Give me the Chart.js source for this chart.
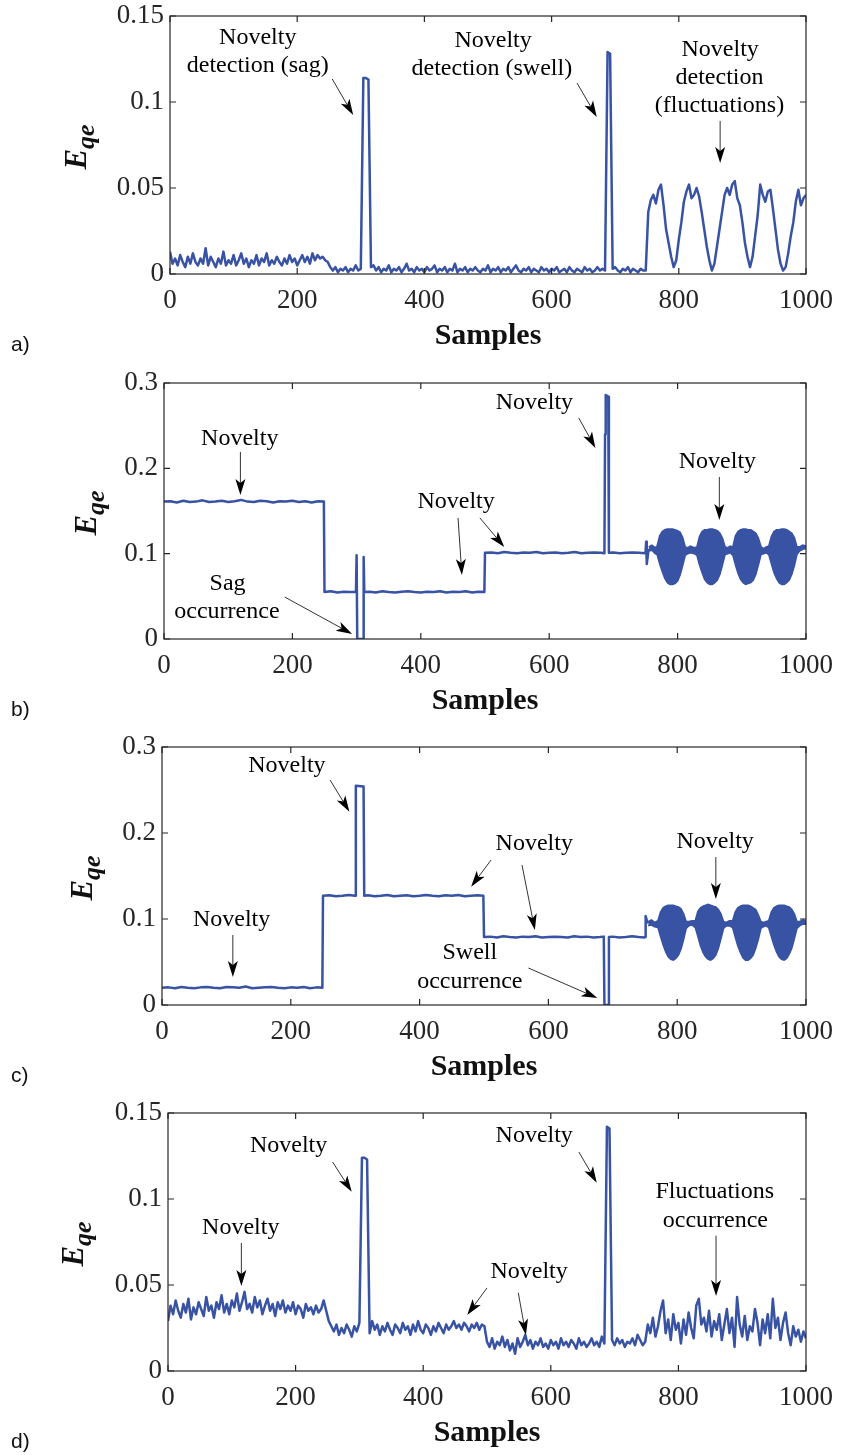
<!DOCTYPE html>
<html>
<head>
<meta charset="utf-8">
<script src="https://cdn.jsdelivr.net/npm/chart.js@4.4.1/dist/chart.umd.min.js"></script>
<style>
  html, body { margin: 0; padding: 0; background: #fff; }
  #page { position: relative; width: 844px; height: 1455px; overflow: hidden; background: #fff; }
  canvas { position: absolute; left: 0; }
</style>
</head>
<body>
<div id="page">
  <canvas id="chartA"></canvas>
  <canvas id="chartB"></canvas>
  <canvas id="chartC"></canvas>
  <canvas id="chartD"></canvas>
</div>
<script>
// Quantization error E_qe vs samples, four cases a) - d)

const BLUE = 'rgb(56, 82, 164)';
const AXIS = '#262626';
const SERIF = '"Liberation Serif", "Times New Roman", serif';

// tick labels
const xTickValues = [0, 200, 400, 600, 800, 1000];
const yTicksSmall = [0, 0.05, 0.1, 0.15];
const yTicksLarge = [0, 0.1, 0.2, 0.3];

// a) and d) are read on a regular grid, one value every GRID samples (0..1000)
const GRID = 4;

const aY = [
  .013,.006,.009,.005,.011,.007,.004,.010,.006,.012,
  .007,.005,.009,.006,.015,.005,.010,.007,.004,.009,
  .006,.013,.005,.008,.006,.011,.005,.008,.012,.006,
  .009,.004,.008,.006,.011,.005,.009,.007,.012,.005,
  .008,.006,.010,.007,.005,.009,.006,.011,.007,.009,
  .005,.008,.011,.007,.010,.006,.012,.008,.011,.009,
  .010,.008,.007,.004,.002,.004,.001,.003,.002,.004,
  .001,.003,.002,.005,.002,.003,.114,.114,.113,.004,
  .005,.002,.004,.001,.003,.002,.005,.001,.003,.002,
  .004,.001,.003,.006,.002,.003,.001,.004,.002,.003,
  .001,.004,.002,.003,.005,.001,.003,.002,.004,.001,
  .003,.002,.006,.001,.003,.002,.004,.001,.003,.002,
  .004,.002,.001,.003,.002,.005,.001,.003,.002,.004,
  .001,.003,.002,.004,.001,.003,.005,.002,.001,.003,
  .002,.004,.001,.003,.002,.001,.004,.002,.003,.001,
  .003,.002,.004,.001,.002,.003,.001,.004,.002,.001,
  .003,.002,.001,.004,.002,.003,.001,.002,.004,.002,
  .003,.002,.129,.128,.003,.004,.002,.001,.003,.002,
  .004,.001,.003,.002,.001,.003,.002,.002,.036,.043,
  .046,.041,.049,.052,.040,.026,.018,.010,.004,.008,
  .020,.030,.042,.048,.052,.044,.046,.050,.045,.036,
  .026,.016,.008,.002,.006,.016,.026,.036,.046,.050,
  .046,.052,.054,.044,.040,.030,.018,.010,.004,.010,
  .022,.034,.052,.046,.042,.048,.049,.038,.026,.014,
  .006,.002,.004,.012,.022,.030,.042,.049,.040,.044,
  .046
];

const dY = [
  .029,.038,.033,.041,.035,.031,.039,.034,.042,.030,
  .037,.033,.040,.036,.032,.043,.035,.038,.031,.040,
  .036,.044,.034,.039,.033,.041,.037,.045,.035,.040,
  .046,.036,.039,.034,.043,.037,.041,.033,.038,.042,
  .035,.039,.032,.040,.036,.041,.034,.038,.035,.040,
  .033,.038,.036,.031,.039,.035,.037,.033,.038,.034,
  .036,.041,.035,.029,.026,.023,.027,.021,.025,.022,
  .027,.024,.020,.026,.023,.028,.124,.124,.123,.022,
  .029,.024,.027,.021,.026,.023,.028,.024,.021,.027,
  .025,.022,.028,.024,.026,.021,.027,.023,.029,.024,
  .022,.027,.025,.021,.026,.023,.028,.025,.022,.027,
  .024,.026,.029,.025,.027,.024,.028,.026,.023,.027,
  .025,.028,.024,.027,.026,.017,.014,.019,.013,.017,
  .015,.020,.014,.018,.012,.016,.010,.019,.014,.017,
  .021,.015,.018,.013,.017,.015,.019,.014,.016,.013,
  .018,.015,.017,.013,.019,.015,.017,.014,.018,.016,
  .013,.019,.015,.017,.014,.016,.019,.015,.017,.014,
  .020,.016,.142,.141,.018,.015,.019,.016,.018,.014,
  .017,.016,.019,.015,.021,.018,.015,.017,.027,.022,
  .031,.020,.026,.035,.041,.022,.030,.018,.033,.024,
  .028,.016,.030,.021,.034,.025,.019,.038,.042,.027,
  .031,.023,.035,.020,.029,.024,.033,.018,.027,.036,
  .022,.031,.014,.043,.027,.020,.032,.018,.026,.023,
  .036,.028,.015,.030,.022,.033,.019,.042,.025,.031,
  .018,.028,.034,.022,.015,.026,.020,.024,.017,.023,
  .019
];

// b) step levels
const bX = [
  0,10,20,30,40,50,60,70,80,90,100,110,120,130,140,150,160,170,180,190,200,210,220,230,240,249,
  250,260,270,280,290,299,300,301,310,311,312,
  320,330,340,350,360,370,380,390,400,410,420,430,440,450,460,470,480,490,499,
  500,510,520,530,540,550,560,570,580,590,600,610,620,630,640,650,660,670,680,686,687,688,692,693,
  700,710,720,730,740,749,750,751,752,755
];
const bY = [
  .161,.1615,.160,.162,.1605,.161,.1625,.1605,.161,.162,.1605,.1615,.163,.161,.1605,.162,.1615,.160,.1615,.161,.162,.1605,.1615,.160,.1615,.161,
  .055,.056,.0545,.0555,.055,.0555,.098,.000,.000,.096,.055,
  .0555,.0545,.056,.055,.0545,.0555,.056,.055,.0545,.0555,.055,.056,.0545,.0555,.055,.056,.0545,.0555,.055,
  .101,.1015,.1005,.102,.101,.1005,.1015,.101,.102,.1005,.101,.1015,.1005,.101,.102,.1005,.101,.1015,.101,.1005,.240,.286,.284,.101,
  .1015,.1005,.101,.1015,.101,.1005,.101,.114,.088,.106
];
// b) oscillation envelope (upper / lower edge of the dense band)
const bEnvX = [
  755,760,765,
  768,772,776,780,784,788,792,796,800,804,808,812,
  816,820,826,
  830,834,838,842,846,850,854,858,862,866,870,874,
  878,882,
  886,890,894,898,902,906,910,914,918,922,926,930,
  934,938,
  942,946,950,954,958,962,966,970,974,978,982,986,
  990,995,1000
];
const bUpper = [
  .108,.110,.107,
  .109,.121,.126,.128,.129,.129,.129,.128,.127,.125,.119,.108,
  .107,.109,.107,
  .108,.120,.126,.128,.128,.129,.129,.128,.127,.124,.118,.108,
  .107,.109,
  .108,.121,.126,.128,.129,.129,.128,.128,.126,.124,.118,.108,
  .106,.108,
  .109,.120,.126,.128,.128,.129,.129,.128,.126,.124,.119,.108,
  .108,.110,.109
];
const bLower = [
  .103,.104,.100,
  .099,.088,.079,.071,.066,.064,.064,.065,.068,.075,.086,.098,
  .100,.101,.100,
  .098,.087,.078,.070,.066,.064,.064,.066,.069,.076,.087,.099,
  .100,.101,
  .098,.087,.077,.070,.066,.064,.065,.066,.069,.076,.087,.099,
  .100,.101,
  .099,.088,.078,.071,.066,.064,.064,.066,.069,.076,.086,.099,
  .103,.105,.106
];

// c) step levels
const cX = [
  0,10,20,30,40,50,60,70,80,90,100,110,120,130,140,150,160,170,180,190,200,210,220,230,240,249,
  250,260,270,280,290,300,301,313,314,
  320,330,340,350,360,370,380,390,400,410,420,430,440,450,460,470,480,490,499,
  500,510,520,530,540,550,560,570,580,590,600,610,620,630,640,650,660,670,680,686,687,693,694,
  700,710,720,730,740,749,750,751,753,755
];
const cY = [
  .020,.0205,.0195,.021,.020,.0195,.0205,.021,.020,.0195,.021,.0205,.020,.0215,.0195,.020,.0205,.021,.020,.0195,.0205,.020,.021,.0195,.0205,.020,
  .127,.1275,.1265,.127,.128,.127,.255,.254,.127,
  .1275,.1265,.127,.128,.1265,.127,.1275,.1265,.127,.128,.127,.1265,.1275,.127,.128,.1265,.127,.1275,.127,
  .079,.0795,.0785,.080,.079,.0785,.0795,.079,.080,.0785,.079,.0795,.079,.0785,.080,.079,.0795,.0785,.079,.0795,.000,.000,.079,
  .0795,.0785,.079,.080,.079,.0785,.079,.1035,.098,.095
];
const cEnvX = [
  755,760,765,
  770,774,778,782,786,790,794,798,802,806,810,814,
  818,823,
  828,832,836,840,844,848,852,856,860,864,868,872,
  876,881,
  886,890,894,898,902,906,910,914,918,922,926,930,
  934,938,
  942,946,950,954,958,962,966,970,974,978,982,986,
  990,995,1000
];
const cUpper = [
  .097,.099,.096,
  .098,.108,.113,.115,.116,.116,.116,.115,.114,.112,.106,.097,
  .097,.098,
  .098,.109,.113,.115,.116,.117,.116,.115,.114,.111,.106,.097,
  .096,.098,
  .098,.108,.113,.115,.116,.116,.116,.115,.113,.111,.105,.097,
  .096,.097,
  .098,.108,.113,.115,.116,.116,.116,.115,.114,.111,.106,.097,
  .097,.099,.098
];
const cLower = [
  .092,.093,.091,
  .090,.080,.070,.062,.056,.053,.052,.054,.058,.065,.076,.089,
  .092,.093,
  .090,.080,.069,.061,.056,.053,.052,.054,.058,.066,.077,.089,
  .092,.092,
  .090,.079,.069,.061,.055,.052,.052,.054,.058,.066,.076,.089,
  .091,.092,
  .090,.080,.070,.062,.056,.053,.052,.054,.059,.066,.077,.089,
  .092,.094,.094
];

// annotations, in data units: [text, sample, value]  /  arrows [x1, y1, x2, y2]
const textsA = [['Novelty',138,.136],['detection (sag)',138,.1198],['Novelty',508,.1343],['detection (swell)',506,.118],
                ['Novelty',865,.129],['detection',864,.1128],['(fluctuations)',864,.0965]];
const arrowsA = [[255,.1134,288,.0924],[640,.111,671,.0913],[865,.089,865,.0645]];

const textsB = [['Novelty',118,.2321],['Sag',99,.0621],['occurrence',98,.0293],['Novelty',455,.1583],
                ['Novelty',577,.2743],['Novelty',862,.2052]];
const arrowsB = [[119,.2192,119,.1688],[188,.0492,293,.0059],[458,.1419,464,.075],[492,.1419,530,.1079],
                 [646,.2591,672,.2239],[865,.1899,865,.1395]];

const textsC = [['Novelty',194,.2756],['Novelty',108,.0965],['Novelty',578,.1849],['Swell',478,.0581],
                ['occurrence',478,.0244],['Novelty',859,.1872]];
const arrowsC = [[261,.2616,291,.2248],[110,.0814,110,.0326],[511,.1686,480,.1376],[559,.1628,579,.0872],
                 [569,.043,676,.0081],[860,.1721,860,.1233]];

const textsD = [['Novelty',189,.1297],['Novelty',114,.082],['Novelty',574,.1355],['Novelty',566,.0564],
                ['Fluctuations',857,.1029],['occurrence',858,.086]];
const arrowsD = [[258,.1215,288,.1042],[115,.0744,115,.0494],[644,.1273,672,.1095],[500,.0483,469,.0326],
                 [549,.0455,561,.0209],[859,.0787,859,.0436]];

// ---------- helpers ----------
function gridPoints(values) {
  return values.map((v, i) => ({ x: i * GRID, y: v }));
}
function pairPoints(xs, ys) {
  return xs.map((x, i) => ({ x: x, y: ys[i] }));
}
function lineSet(points) {
  return { data: points, borderColor: BLUE, borderWidth: 2.5, pointRadius: 0, tension: 0,
           fill: false, borderJoinStyle: 'round' };
}
function bandSets(xs, upper, lower) {
  return [
    { data: pairPoints(xs, upper), borderColor: BLUE, backgroundColor: BLUE, borderWidth: 1.5,
      pointRadius: 0, tension: 0, fill: '+1' },
    { data: pairPoints(xs, lower), borderColor: BLUE, borderWidth: 1.5, pointRadius: 0, tension: 0, fill: false }
  ];
}

function drawArrow(ctx, x1, y1, x2, y2) {
  const ang = Math.atan2(y2 - y1, x2 - x1);
  const L = 16, W = 5, back = 4;
  ctx.save();
  ctx.strokeStyle = '#333';
  ctx.lineWidth = 1;
  ctx.beginPath();
  ctx.moveTo(x1, y1);
  ctx.lineTo(x2 - Math.cos(ang) * (L - back), y2 - Math.sin(ang) * (L - back));
  ctx.stroke();
  ctx.translate(x2, y2);
  ctx.rotate(ang);
  ctx.beginPath();
  ctx.moveTo(0, 0);
  ctx.lineTo(-L, -W);
  ctx.lineTo(-L + back, 0);
  ctx.lineTo(-L, W);
  ctx.closePath();
  ctx.fillStyle = '#000';
  ctx.fill();
  ctx.restore();
}

// box, inward ticks, titles and annotations
const decoPlugin = {
  id: 'deco',
  afterDraw(chart, args, opts) {
    const ctx = chart.ctx;
    const ca = chart.chartArea;
    const xs = chart.scales.x, ys = chart.scales.y;
    ctx.save();
    ctx.strokeStyle = AXIS;
    ctx.lineWidth = 1.2;
    ctx.strokeRect(ca.left, ca.top, ca.right - ca.left, ca.bottom - ca.top);
    ctx.beginPath();
    xTickValues.forEach(v => {
      const px = xs.getPixelForValue(v);
      ctx.moveTo(px, ca.bottom); ctx.lineTo(px, ca.bottom - 6);
      ctx.moveTo(px, ca.top); ctx.lineTo(px, ca.top + 6);
    });
    opts.yTicks.forEach(v => {
      const py = ys.getPixelForValue(v);
      ctx.moveTo(ca.left, py); ctx.lineTo(ca.left + 6, py);
      ctx.moveTo(ca.right, py); ctx.lineTo(ca.right - 6, py);
    });
    ctx.stroke();

    // x title
    ctx.fillStyle = '#111';
    ctx.font = 'bold 30px ' + SERIF;
    ctx.textAlign = 'center';
    ctx.textBaseline = 'middle';
    ctx.fillText('Samples', (ca.left + ca.right) / 2, ca.bottom + 62);

    // y title E_qe
    ctx.save();
    ctx.translate(ca.left - opts.titleGap, (ca.top + ca.bottom) / 2 + 2);
    ctx.rotate(-Math.PI / 2);
    const big = 'italic bold 31px ' + SERIF, small = 'italic bold 26px ' + SERIF;
    ctx.font = big; const wE = ctx.measureText('E').width;
    ctx.font = small; const wS = ctx.measureText('qe').width;
    const x0 = -(wE + wS) / 2;
    ctx.textAlign = 'left';
    ctx.textBaseline = 'alphabetic';
    ctx.font = big; ctx.fillText('E', x0, 0);
    ctx.font = small; ctx.fillText('qe', x0 + wE, 8);
    ctx.restore();

    // panel letter
    ctx.font = '21px "Liberation Sans", Arial, sans-serif';
    ctx.textAlign = 'left';
    ctx.textBaseline = 'middle';
    ctx.fillStyle = '#111';
    ctx.fillText(opts.letter, 11, ca.bottom + 71);

    // annotations
    ctx.font = '24px ' + SERIF;
    ctx.textAlign = 'center';
    ctx.fillStyle = '#000';
    opts.texts.forEach(t => {
      ctx.fillText(t[0], xs.getPixelForValue(t[1]), ys.getPixelForValue(t[2]) - 2);
    });
    opts.arrows.forEach(a => {
      drawArrow(ctx, xs.getPixelForValue(a[0]), ys.getPixelForValue(a[1]),
                     xs.getPixelForValue(a[2]), ys.getPixelForValue(a[3]));
    });
    ctx.restore();
  }
};

// ---------- panels ----------
const Y_W = 70, X_H = 40, TOP_M = 40, BOT_M = 95;

const panels = [
  { id: 'chartA', letter: 'a)', box: { l: 170, r: 808, t: 16, b: 274 }, yMax: 0.15, yTicks: yTicksSmall,
    titleGap: 84, texts: textsA, arrows: arrowsA,
    datasets: [lineSet(gridPoints(aY))] },
  { id: 'chartB', letter: 'b)', box: { l: 164, r: 809, t: 383, b: 639 }, yMax: 0.3, yTicks: yTicksLarge,
    titleGap: 68, texts: textsB, arrows: arrowsB,
    datasets: [lineSet(pairPoints(bX, bY))].concat(bandSets(bEnvX, bUpper, bLower)) },
  { id: 'chartC', letter: 'c)', box: { l: 162, r: 814, t: 747, b: 1005 }, yMax: 0.3, yTicks: yTicksLarge,
    titleGap: 70, texts: textsC, arrows: arrowsC,
    datasets: [lineSet(pairPoints(cX, cY))].concat(bandSets(cEnvX, cUpper, cLower)) },
  { id: 'chartD', letter: 'd)', box: { l: 168, r: 814, t: 1113, b: 1371 }, yMax: 0.15, yTicks: yTicksSmall,
    titleGap: 85, texts: textsD, arrows: arrowsD,
    datasets: [lineSet(gridPoints(dY))] }
];

panels.forEach(p => {
  const canvas = document.getElementById(p.id);
  const plotH = p.box.b - p.box.t;
  const H = plotH + TOP_M + BOT_M;
  canvas.width = 844;
  canvas.height = H;
  canvas.style.top = (p.box.t - TOP_M) + 'px';

  new Chart(canvas.getContext('2d'), {
    type: 'line',
    data: { datasets: p.datasets },
    options: {
      responsive: false,
      animation: false,
      devicePixelRatio: 1,
      layout: {
        padding: { left: p.box.l - Y_W, right: 844 - p.box.r, top: TOP_M, bottom: H - TOP_M - plotH - X_H }
      },
      plugins: {
        legend: { display: false },
        tooltip: { enabled: false },
        deco: { letter: p.letter, yTicks: p.yTicks, titleGap: p.titleGap, texts: p.texts, arrows: p.arrows }
      },
      scales: {
        x: {
          type: 'linear', min: 0, max: 1000,
          grid: { display: false, drawTicks: false },
          border: { display: false },
          afterBuildTicks: s => { s.ticks = xTickValues.map(v => ({ value: v })); },
          afterFit: s => { s.height = X_H; },
          ticks: { color: AXIS, font: { family: SERIF, size: 27 }, padding: 11, maxRotation: 0,
                   callback: v => String(v) }
        },
        y: {
          type: 'linear', min: 0, max: p.yMax,
          grid: { display: false, drawTicks: false },
          border: { display: false },
          afterBuildTicks: s => { s.ticks = p.yTicks.map(v => ({ value: v })); },
          afterFit: s => { s.width = Y_W; },
          ticks: { color: AXIS, font: { family: SERIF, size: 27 }, padding: 6,
                   callback: v => String(Math.round(v * 100) / 100) }
        }
      }
    },
    plugins: [decoPlugin]
  });
});
</script>
</body>
</html>
